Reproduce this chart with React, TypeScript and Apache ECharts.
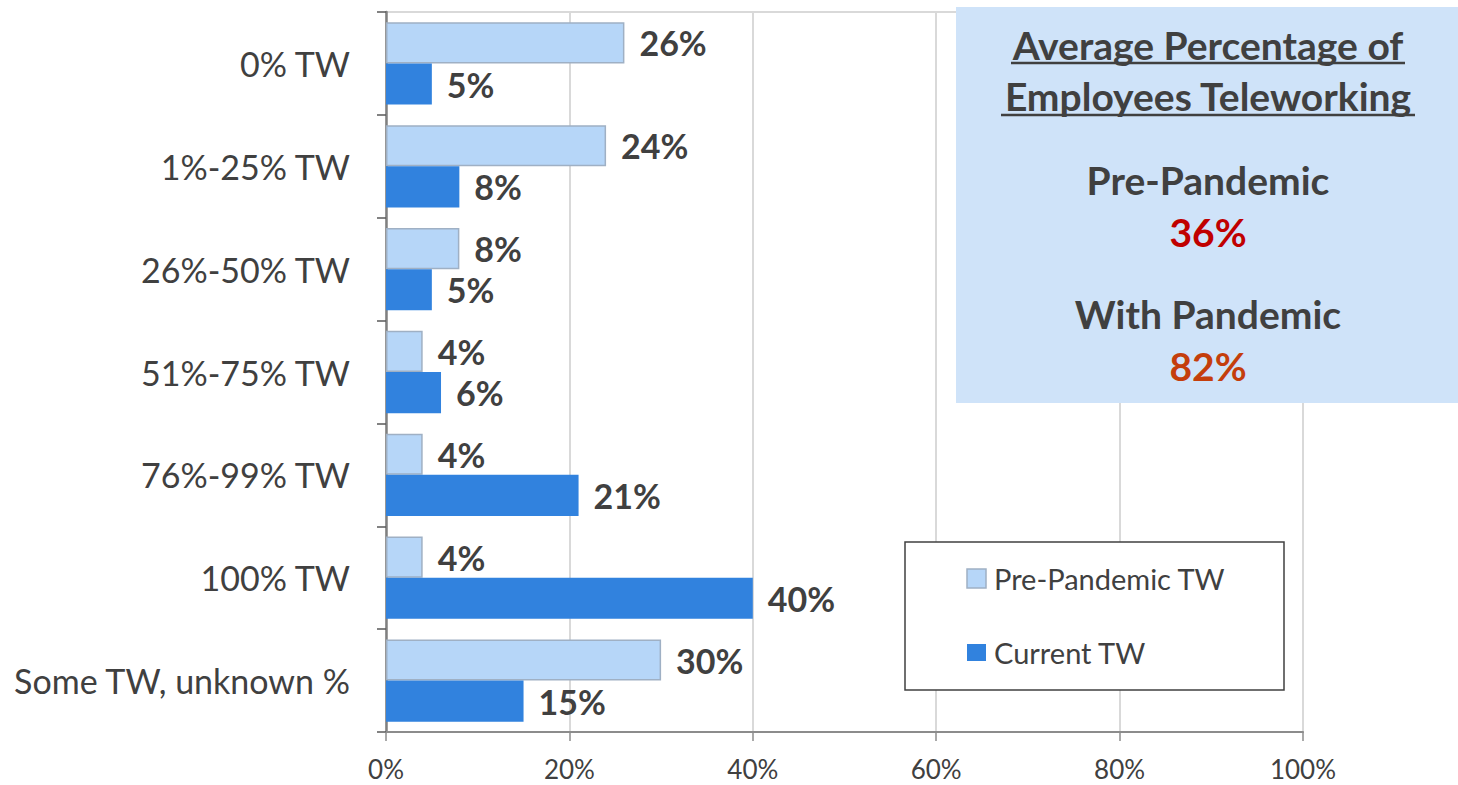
import React, { useEffect, useRef } from "react";
import * as echarts from "echarts";

const categories = ["0% TW", "1%-25% TW", "26%-50% TW", "51%-75% TW", "76%-99% TW", "100% TW", "Some TW, unknown %"];
const prePandemic = [26, 24, 8, 4, 4, 4, 30];
const current = [5, 8, 5, 6, 21, 40, 15];
const xTicks = [0, 20, 40, 60, 80, 100];
const seriesNames = ["Pre-Pandemic TW", "Current TW"];
const infoTitle = ["Average Percentage of", "Employees Teleworking"];
const infoPre = { label: "Pre-Pandemic", value: "36%" };
const infoWith = { label: "With Pandemic", value: "82%" };

const FONT = "Lato, 'Open Sans', sans-serif";
const TXT = "#404040";

export default function App() {
  const ref = useRef<HTMLDivElement>(null);
  useEffect(() => {
    if (!ref.current) return;
    const chart = echarts.init(ref.current, null, { renderer: "svg" });
    const boxCx = 1208;
    const infoFont = `bold 39px ${FONT}`;
    chart.setOption({
      animation: false,
      backgroundColor: "#ffffff",
      textStyle: { fontFamily: FONT },
      grid: { left: 386, top: 12, right: 155, bottom: 53, show: true, borderColor: "#d9d9d9", borderWidth: 2 },
      xAxis: {
        type: "value",
        min: xTicks[0],
        max: xTicks[xTicks.length - 1],
        interval: 20,
        axisLine: { show: true, lineStyle: { color: "#8c8c8c", width: 2 } },
        axisTick: { show: true, length: 9, lineStyle: { color: "#8c8c8c", width: 1.5 } },
        splitLine: { show: true, lineStyle: { color: "#d9d9d9", width: 2 } },
        axisLabel: { formatter: "{value}%", color: TXT, fontSize: 26, fontFamily: FONT, margin: 24 },
      },
      yAxis: {
        type: "category",
        data: categories,
        inverse: true,
        axisLine: { show: true, lineStyle: { color: "#808080", width: 2.5 } },
        axisTick: { show: true, length: 9, lineStyle: { color: "#595959", width: 1.5 } },
        axisLabel: { color: TXT, fontSize: 34, fontFamily: FONT, margin: 36 },
      },
      legend: { show: false },
      series: [
        {
          name: seriesNames[0],
          type: "bar",
          data: prePandemic,
          barGap: "0%",
          barCategoryGap: "20%",
          itemStyle: { color: "#b6d6f8", borderColor: "#9fb0c4", borderWidth: 1.5 },
          label: { show: true, position: "right", distance: 15, formatter: "{c}%", color: TXT, fontSize: 34, fontWeight: "bold", fontFamily: FONT },
        },
        {
          name: seriesNames[1],
          type: "bar",
          data: current,
          itemStyle: { color: "#3182de" },
          label: { show: true, position: "right", distance: 15, formatter: "{c}%", color: TXT, fontSize: 34, fontWeight: "bold", fontFamily: FONT },
        },
      ],
      graphic: [
        { type: "rect", shape: { x: 956, y: 7, width: 502, height: 396 }, style: { fill: "#cfe3f9" }, z: 10 },
        { type: "text", x: boxCx, y: 45, style: { text: infoTitle[0], fill: TXT, font: infoFont, align: "center", verticalAlign: "middle" }, z: 11 },
        { type: "line", shape: { x1: 1011, y1: 63, x2: 1405, y2: 63 }, style: { stroke: TXT, lineWidth: 2.5 }, z: 11 },
        { type: "text", x: boxCx, y: 96, style: { text: infoTitle[1], fill: TXT, font: infoFont, align: "center", verticalAlign: "middle" }, z: 11 },
        { type: "line", shape: { x1: 1001, y1: 115, x2: 1415, y2: 115 }, style: { stroke: TXT, lineWidth: 2.5 }, z: 11 },
        { type: "text", x: boxCx, y: 180, style: { text: infoPre.label, fill: TXT, font: infoFont, align: "center", verticalAlign: "middle" }, z: 11 },
        { type: "text", x: boxCx, y: 232, style: { text: infoPre.value, fill: "#c00000", font: infoFont, align: "center", verticalAlign: "middle" }, z: 11 },
        { type: "text", x: boxCx, y: 314, style: { text: infoWith.label, fill: TXT, font: infoFont, align: "center", verticalAlign: "middle" }, z: 11 },
        { type: "text", x: boxCx, y: 366, style: { text: infoWith.value, fill: "#c43e0c", font: infoFont, align: "center", verticalAlign: "middle" }, z: 11 },
        { type: "rect", shape: { x: 905, y: 542, width: 379, height: 148 }, style: { fill: "#ffffff", stroke: "#404040", lineWidth: 1.5 }, z: 10 },
        { type: "rect", shape: { x: 967, y: 569, width: 19, height: 19 }, style: { fill: "#b6d6f8", stroke: "#9fb0c4", lineWidth: 1.5 }, z: 11 },
        { type: "text", x: 994, y: 578, style: { text: seriesNames[0], fill: TXT, font: `29px ${FONT}`, align: "left", verticalAlign: "middle" }, z: 11 },
        { type: "rect", shape: { x: 967, y: 644, width: 19, height: 17 }, style: { fill: "#3182de" }, z: 11 },
        { type: "text", x: 994, y: 652, style: { text: seriesNames[1], fill: TXT, font: `29px ${FONT}`, align: "left", verticalAlign: "middle" }, z: 11 },
      ],
    });
    return () => chart.dispose();
  }, []);
  return <div ref={ref} style={{ position: "fixed", left: 0, top: 0, width: 1458, height: 785 }} />;
}
